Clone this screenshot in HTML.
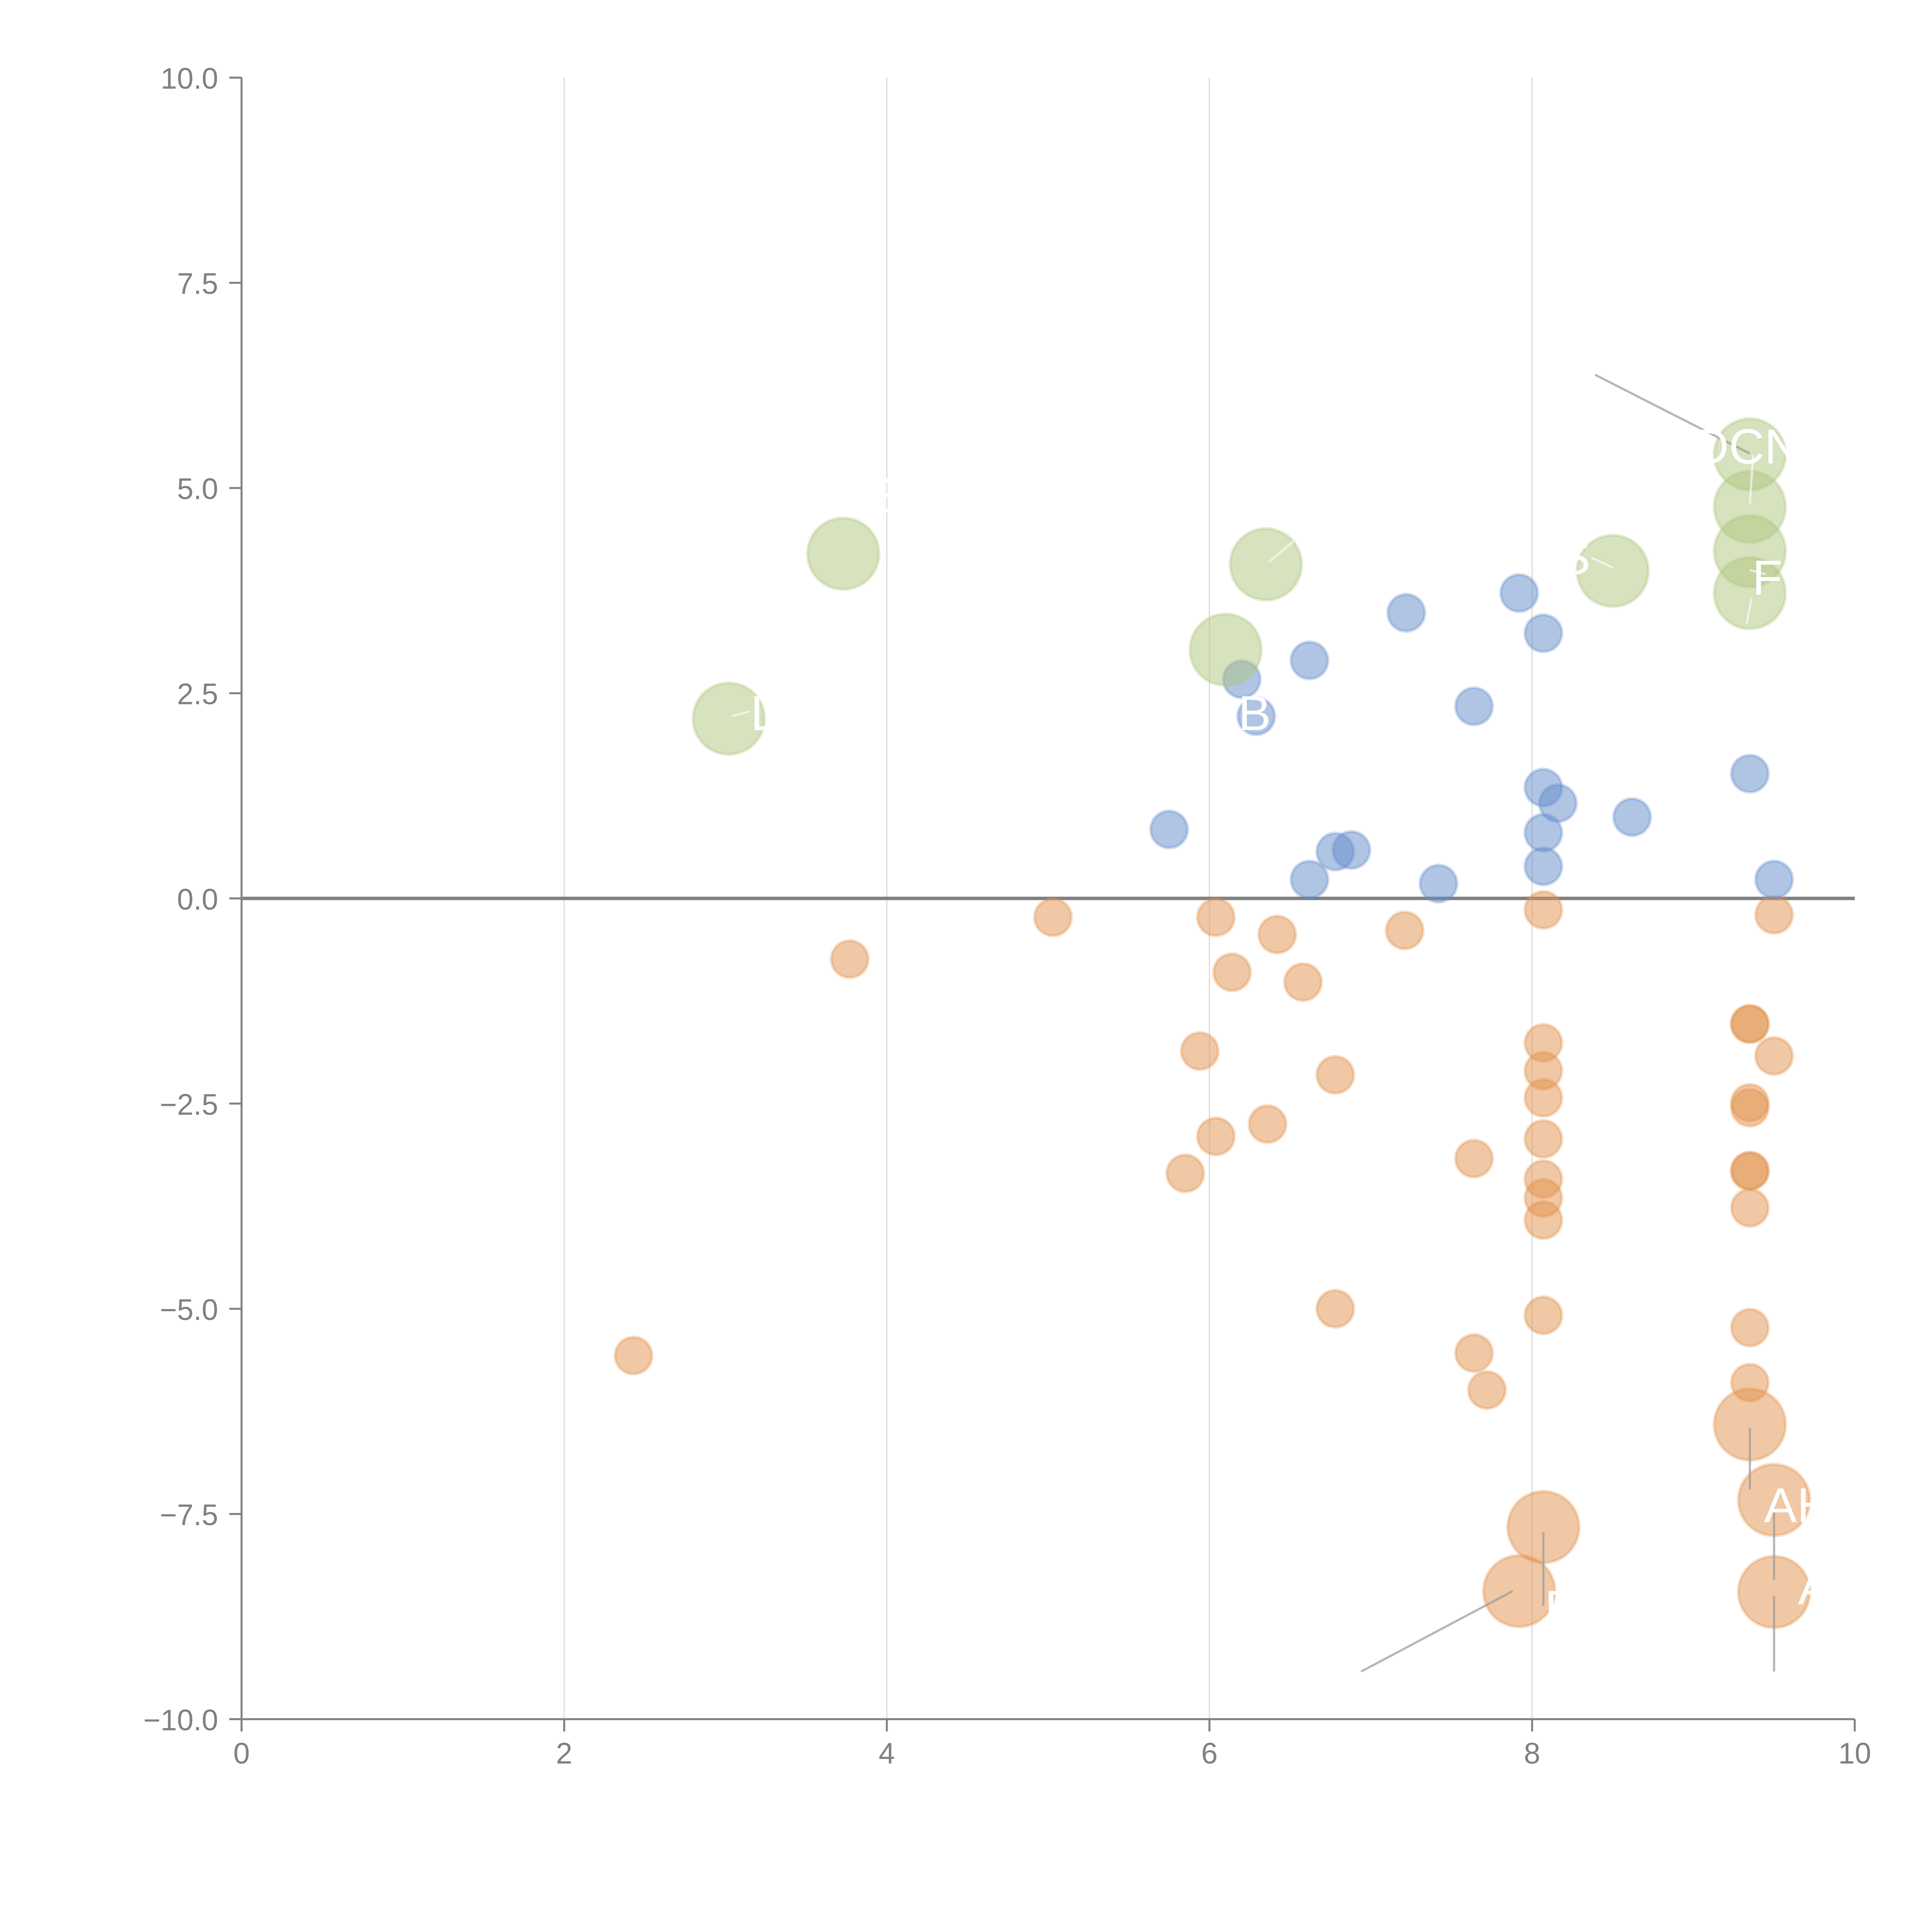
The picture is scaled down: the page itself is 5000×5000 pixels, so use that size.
<!DOCTYPE html>
<html><head><meta charset="utf-8"><style>
html,body{margin:0;padding:0;background:#fff;}
svg{display:block;}
text{font-family:"Liberation Sans",sans-serif;}
</style></head><body>
<svg id="chart" width="5000" height="5000" viewBox="0 0 1567.7 1567.7" xmlns="http://www.w3.org/2000/svg">
<g id="grid"></g>
<g id="axes"></g>
<g id="marks"></g>
<g id="ann"></g>
</svg>
<script>
const xTicks=[0,2,4,6,8,10];
const yTicks=[-10,-7.5,-5,-2.5,0,2.5,5,7.5,10];
const yTickLabels=["\u221210.0","\u22127.5","\u22125.0","\u22122.5","0.0","2.5","5.0","7.5","10.0"];
const blueX=[5.75,6.20,6.29,6.62,6.62,6.78,6.88,7.22,7.42,7.64,7.92,8.07,8.07,8.16,8.07,8.07,8.62,9.35,9.50];
const blueY=[0.84,2.67,2.22,2.90,0.23,0.57,0.59,3.48,0.18,2.34,3.72,3.23,1.35,1.16,0.80,0.39,0.99,1.52,0.23];
const greenX=[3.02,3.73,6.10,6.35,8.50,9.35,9.35,9.35,9.35];
const greenY=[2.19,4.20,3.03,4.07,3.99,5.41,4.77,4.23,3.72];
const orangeX=[3.77,2.43,5.03,6.04,6.14,6.42,6.58,5.94,6.78,6.04,6.36,5.85,6.78,7.21,7.64,7.64,7.72,8.07,8.07,8.07,8.07,8.07,8.07,8.07,8.07,8.07,9.35,9.35,9.35,9.35,9.35,9.35,9.35,9.35,9.35,9.50,9.50];
const orangeY=[-0.74,-5.57,-0.23,-0.23,-0.90,-0.44,-1.02,-1.86,-2.15,-2.90,-2.75,-3.35,-5.00,-0.39,-3.17,-5.54,-5.99,-0.14,-1.76,-2.10,-2.43,-2.93,-3.42,-3.65,-3.92,-5.08,-1.53,-1.53,-2.49,-2.55,-3.32,-3.32,-3.77,-5.23,-5.90,-0.20,-1.92];
const bigOrangeX=[9.35,9.50,8.07,7.92,9.50];
const bigOrangeY=[-6.41,-7.33,-7.66,-8.44,-8.45];
const labelText=["L","E","B","S","DCN","FK","AH","A","B"];
const labelX=[3.24,3.97,6.28,8.26,9.33,9.56,9.65,9.75,8.18];
const labelY=[2.05,4.7,2.05,3.95,5.3,3.7,-7.6,-8.6,-8.85];

const NS="http://www.w3.org/2000/svg";
const X0=196,X1=1505,Y0=1395,Y1=63;
const sx=v=>X0+(v-0)/(10-0)*(X1-X0);
const sy=v=>Y0-(v+10)/20*(Y0-Y1);
function mk(tag,attrs,parent){const e=document.createElementNS(NS,tag);for(const k in attrs)e.setAttribute(k,attrs[k]);parent.appendChild(e);return e;}
const grid=document.getElementById('grid'),axes=document.getElementById('axes'),marks=document.getElementById('marks'),ann=document.getElementById('ann');

xTicks.forEach(t=>{
  if(t>0&&t<10){const g=mk('line',{x1:sx(t),x2:sx(t),y1:Y1,y2:Y0,stroke:'#dcdcdc','stroke-width':1},grid);
  
  }
  const tk=mk('line',{x1:sx(t),x2:sx(t),y1:Y0,y2:Y0+10,stroke:'#808080','stroke-width':1.6},axes);
  
  
  const tx=mk('text',{x:sx(t),y:Y0+36,'text-anchor':'middle','font-size':24,fill:'#808080'},axes);
  tx.textContent=t;
  
  
});
yTicks.forEach((t,i)=>{
  const tk=mk('line',{x1:X0-10,x2:X0,y1:sy(t),y2:sy(t),stroke:'#808080','stroke-width':1.6},axes);
  
  
  const tx=mk('text',{x:X0-19,y:sy(t)+9,'text-anchor':'end','font-size':24,fill:'#808080'},axes);
  tx.textContent=yTickLabels[i];
  
  
});
const ya=mk('line',{x1:X0,x2:X0,y1:Y1,y2:Y0,stroke:'#808080','stroke-width':1.6},axes);


const xa=mk('line',{x1:X0,x2:X1,y1:Y0,y2:Y0,stroke:'#808080','stroke-width':1.6},axes);


const zl=mk('line',{x1:X0,x2:X1,y1:sy(0),y2:sy(0),stroke:'#808080','stroke-width':2.8},axes);



function series(xs,ys,r,fill,op,name){
  xs.forEach((x,i)=>{
    const c=mk('circle',{cx:sx(x),cy:sy(ys[i]),r:r,fill:fill,'fill-opacity':op,stroke:fill,'stroke-opacity':0.3,'stroke-width':2.5},marks);
    
    
  });
}
series(orangeX,orangeY,15,'#e1914b',0.5,'orange-point');
series(bigOrangeX,bigOrangeY,29,'#e1914b',0.5,'orange-bubble');
series(blueX,blueY,15,'#628cca',0.5,'blue-point');
series(greenX,greenY,29,'#afc57d',0.5,'green-bubble');

const connA=[[8.39,6.38,9.35,5.42],[6.94,-9.42,7.88,-8.44],[8.07,-7.72,8.07,-8.62],[9.35,-6.45,9.35,-7.2],[9.50,-7.38,9.50,-8.3],[9.50,-8.5,9.50,-9.42]];
connA.forEach(c=>{const l=mk('line',{x1:sx(c[0]),y1:sy(c[1]),x2:sx(c[2]),y2:sy(c[3]),stroke:'#999','stroke-opacity':0.7,'stroke-width':1.8},ann);

});
const connW=[[3.04,2.22,3.15,2.28],[6.37,4.10,6.52,4.35],[8.37,4.15,8.50,4.03],[9.37,5.4,9.35,4.8],[9.35,4.0,9.45,3.95],[9.36,3.65,9.33,3.35]];
connW.forEach(c=>{const l=mk('line',{x1:sx(c[0]),y1:sy(c[1]),x2:sx(c[2]),y2:sy(c[3]),stroke:'#fff','stroke-opacity':0.6,'stroke-width':1.8},ann);

});
labelText.forEach((t,i)=>{const tx=mk('text',{x:sx(labelX[i]),y:sy(labelY[i]),'font-size':40,fill:'#fff','text-anchor':'middle'},ann);
tx.textContent=t;

});
</script>
</body></html>
